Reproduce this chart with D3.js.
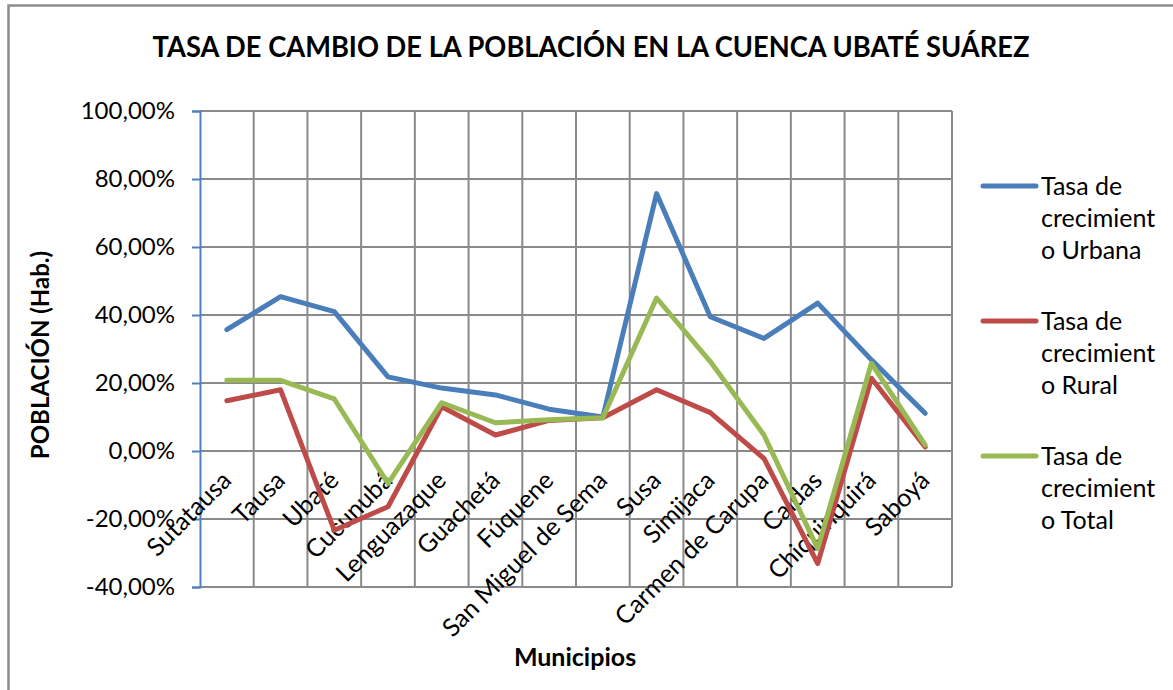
<!DOCTYPE html>
<html>
<head>
<meta charset="utf-8">
<script src="https://cdn.jsdelivr.net/npm/d3@7"></script>
<style>
  body { margin: 0; background: #fff; }
  svg { display: block; font-family: Lato, "Open Sans", sans-serif; }
</style>
</head>
<body>
<div id="chart"></div>
<script>
// Datos (porcentajes)
const municipios = ["Sutatausa", "Tausa", "Ubaté", "Cucunubá", "Lenguazaque", "Guachetá", "Fúquene",
  "San Miguel de Sema", "Susa", "Simijaca", "Carmen de Carupa", "Caldas", "Chiquinquirá", "Saboyá"];
const urbana = [35.7, 45.4, 41.0, 21.8, 18.5, 16.5, 12.3, 10.0, 75.7, 39.5, 33.1, 43.5, 26.8, 11.1];
const rural = [14.8, 18.0, -23.3, -16.4, 13.0, 4.7, 9.0, 9.8, 18.0, 11.3, -2.2, -33.1, 21.4, 1.2];
const total = [20.8, 20.8, 15.3, -9.5, 14.2, 8.3, 9.2, 9.8, 45.0, 26.3, 4.7, -28.7, 25.8, 1.8];
const yTicks = [-40, -20, 0, 20, 40, 60, 80, 100];
const seriesNames = ["Tasa de crecimiento Urbana", "Tasa de crecimiento Rural", "Tasa de crecimiento Total"];

const width = 1173, height = 690;
const plot = { left: 200, right: 952, top: 111, bottom: 587 };
const colors = ["#4a7ebb", "#be4b48", "#98b954"];
const grid = "#8a8a8a";

const svg = d3.select("#chart").append("svg")
  .attr("width", width).attr("height", height);

// borde del area del grafico
svg.append("path")
  .attr("d", `M8.5,${height + 5}V5.5H${width + 5}`)
  .attr("fill", "none").attr("stroke", "#8c8c8c").attr("stroke-width", 2.5);

const x = d3.scaleBand().domain(municipios).range([plot.left, plot.right]);
const y = d3.scaleLinear().domain([-40, 100]).range([plot.bottom, plot.top]);
const cx = (d) => x(d) + x.bandwidth() / 2;

// lineas de cuadricula horizontales
svg.append("g").selectAll("line").data(yTicks).enter().append("line")
  .attr("x1", plot.left).attr("x2", plot.right)
  .attr("y1", (d) => y(d)).attr("y2", (d) => y(d))
  .attr("stroke", grid).attr("stroke-width", 2);

// lineas de cuadricula verticales (limites de categoria)
svg.append("g").selectAll("line").data(municipios).enter().append("line")
  .attr("x1", (d) => x(d) + x.bandwidth()).attr("x2", (d) => x(d) + x.bandwidth())
  .attr("y1", plot.top).attr("y2", plot.bottom)
  .attr("stroke", grid).attr("stroke-width", 2);

// eje Y
const fmt = (d) => d.toFixed(2).replace(".", ",") + "%";
const yAxis = svg.append("g")
  .attr("transform", `translate(${plot.left},0)`)
  .call(d3.axisLeft(y).tickValues(yTicks).tickFormat(fmt).tickSize(8).tickPadding(17));
yAxis.select(".domain").attr("stroke", "#4f81bd").attr("stroke-width", 2);
yAxis.selectAll(".tick line").attr("stroke", "#4f81bd").attr("stroke-width", 2);
yAxis.selectAll(".tick text")
  .attr("fill", "#000").style("font-size", "24px").style("font-family", "Lato, sans-serif");

// etiquetas de categoria rotadas
svg.append("g").selectAll("text").data(municipios).enter().append("text")
  .attr("transform", (d) => `translate(${cx(d) + 6},482) rotate(-45)`)
  .attr("text-anchor", "end")
  .style("font-size", "25px")
  .text((d) => d);

// series
const series = [urbana, rural, total];
const line = d3.line().x((d, i) => cx(municipios[i])).y((d) => y(d));
svg.append("g").selectAll("path").data(series).enter().append("path")
  .attr("d", line)
  .attr("fill", "none")
  .attr("stroke", (d, i) => colors[i])
  .attr("stroke-width", 5)
  .attr("stroke-linejoin", "round")
  .attr("stroke-linecap", "round");

// titulo
svg.append("text")
  .attr("x", 591).attr("y", 57)
  .attr("text-anchor", "middle")
  .attr("textLength", 877).attr("lengthAdjust", "spacingAndGlyphs")
  .style("font-size", "28px").style("font-weight", "bold")
  .text("TASA DE CAMBIO DE LA POBLACIÓN EN LA CUENCA UBATÉ SUÁREZ");

// titulos de ejes
svg.append("text")
  .attr("transform", "translate(49,355) rotate(-90)")
  .attr("text-anchor", "middle")
  .style("font-size", "24px").style("font-weight", "bold")
  .text("POBLACIÓN (Hab.)");

svg.append("text")
  .attr("x", 575).attr("y", 666)
  .attr("text-anchor", "middle")
  .style("font-size", "25px").style("font-weight", "bold")
  .text("Municipios");

// leyenda
const legendLines = [["Tasa de", "crecimient", "o Urbana"], ["Tasa de", "crecimient", "o Rural"], ["Tasa de", "crecimient", "o Total"]];
const legend = svg.append("g").selectAll("g").data(seriesNames).enter().append("g")
  .attr("transform", (d, i) => `translate(0,${186 + i * 135})`);
legend.append("line")
  .attr("x1", 983).attr("x2", 1036).attr("y1", 0).attr("y2", 0)
  .attr("stroke", (d, i) => colors[i]).attr("stroke-width", 5).attr("stroke-linecap", "round");
legend.append("text")
  .attr("x", 1041).attr("y", 9)
  .style("font-size", "25px")
  .selectAll("tspan").data((d, i) => legendLines[i]).enter().append("tspan")
  .attr("x", 1041).attr("dy", (d, j) => (j === 0 ? 0 : 32))
  .text((d) => d);
</script>
</body>
</html>
